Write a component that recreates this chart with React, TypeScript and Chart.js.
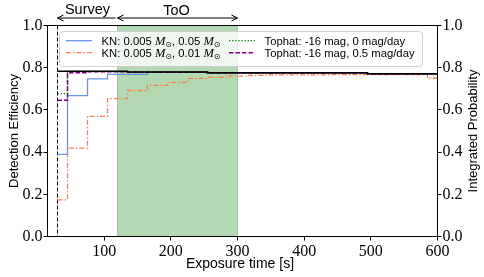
import React, { useEffect, useRef } from "react";
import { Chart, registerables } from "chart.js";

Chart.register(...registerables);

// ---- data ----
const X_MIN = 15;
const X_MAX = 600;
const xTicks = [100, 200, 300, 400, 500, 600];
const yTicks = [0, 0.2, 0.4, 0.6, 0.8, 1.0];

const surveyStart = 30;
const tooStart = 120;
const tooEnd = 300;

// KN: 0.005 Msun, 0.05 Msun (blue, solid)
const knHeavyTimes = [30, 45, 75, 105, 165, 255, 495, 600];
const knHeavyVals = [0.389, 0.668, 0.747, 0.768, 0.779, 0.775, 0.770, 0.770];

// KN: 0.005 Msun, 0.01 Msun (coral, dash-dot)
const knLightTimes = [30, 45, 75, 105, 135, 165, 195, 225, 255, 285, 315, 345, 435, 585, 600];
const knLightVals = [0.174, 0.419, 0.569, 0.653, 0.692, 0.716, 0.730, 0.749, 0.754, 0.760, 0.764, 0.766, 0.767, 0.750, 0.750];

// Tophat: -16 mag, 0 mag/day (green, dotted)
const topFlatTimes = [30, 45, 135, 255, 495, 600];
const topFlatVals = [0.677, 0.782, 0.779, 0.775, 0.770, 0.770];

// Tophat: -16 mag, 0.5 mag/day (purple, dashed)
const topFadeTimes = [30, 45, 75, 135, 255, 495, 600];
const topFadeVals = [0.646, 0.776, 0.781, 0.779, 0.775, 0.770, 0.770];

// Integrated probability (black, solid, right axis)
const probTimes = [30, 135, 255, 495, 600];
const probVals = [0.783, 0.780, 0.776, 0.771, 0.771];

const toPts = (t: number[], v: number[]) => t.map((x, i) => ({ x, y: v[i] }));

const SANS = '"Liberation Sans", Arial, sans-serif';
const SERIF = '"Liberation Serif", "Times New Roman", serif';

Chart.defaults.font.family = SERIF;
Chart.defaults.font.size = 16;
Chart.defaults.color = "#000";

const styles = {
  blue: { color: "#6495ED", dash: [] as number[], width: 1.3 },
  coral: { color: "#FF7F50", dash: [5, 2, 1.5, 2], width: 1.3 },
  green: { color: "#008000", dash: [1.3, 1.8], width: 1.3 },
  purple: { color: "#800080", dash: [4.5, 2], width: 1.5 },
};

function drawRich(ctx: CanvasRenderingContext2D, x: number, y: number, parts: { t: string; font: string; dy?: number }[]) {
  for (const p of parts) {
    ctx.font = p.font;
    ctx.fillText(p.t, x, y + (p.dy || 0));
    x += ctx.measureText(p.t).width;
  }
}

function arrowHead(ctx: CanvasRenderingContext2D, x: number, y: number, dir: number) {
  ctx.beginPath();
  ctx.moveTo(x - dir * 6, y - 3);
  ctx.lineTo(x, y);
  ctx.lineTo(x - dir * 6, y + 3);
  ctx.stroke();
}

const decor = {
  id: "decor",
  beforeDatasetsDraw(chart: any) {
    const { ctx, chartArea: a, scales } = chart;
    const x = scales.x;
    ctx.save();
    const x1 = x.getPixelForValue(tooStart);
    const x2 = x.getPixelForValue(tooEnd);
    ctx.fillStyle = "rgba(0,128,0,0.3)";
    ctx.fillRect(x1, a.top, x2 - x1, a.bottom - a.top);
    ctx.strokeStyle = "rgba(0,128,0,0.3)";
    ctx.lineWidth = 1;
    ctx.strokeRect(x1, a.top, x2 - x1, a.bottom - a.top);
    const xs = x.getPixelForValue(surveyStart);
    ctx.strokeStyle = "#000";
    ctx.setLineDash([4, 2]);
    ctx.beginPath();
    ctx.moveTo(xs, a.top);
    ctx.lineTo(xs, a.bottom);
    ctx.stroke();
    ctx.restore();
  },
  afterDraw(chart: any) {
    const { ctx, chartArea: a, scales } = chart;
    const x = scales.x;
    ctx.save();
    // frame
    ctx.strokeStyle = "#000";
    ctx.lineWidth = 1;
    ctx.strokeRect(a.left, a.top, a.right - a.left, a.bottom - a.top);

    // axis titles
    ctx.fillStyle = "#000";
    ctx.textBaseline = "alphabetic";
    ctx.textAlign = "center";
    ctx.font = `14px ${SANS}`;
    ctx.fillText("Exposure time [s]", 240, 268);
    const cy = (a.top + a.bottom) / 2;
    ctx.font = `13px ${SANS}`;
    ctx.save();
    ctx.translate(17.5, cy);
    ctx.rotate(-Math.PI / 2);
    ctx.fillText("Detection Efficiency", 0, 0);
    ctx.restore();
    ctx.save();
    ctx.translate(476.5, cy);
    ctx.rotate(-Math.PI / 2);
    ctx.fillText("Integrated Probability", 0, 0);
    ctx.restore();

    // annotations
    const xs = x.getPixelForValue(surveyStart);
    const x1 = x.getPixelForValue(tooStart);
    const x2 = x.getPixelForValue(tooEnd);
    const ay = 18;
    ctx.font = `14.5px ${SANS}`;
    ctx.fillText("Survey", (xs + x1) / 2, 14);
    ctx.fillText("ToO", (x1 + x2) / 2 - 1, 14.5);
    ctx.lineWidth = 1;
    ctx.beginPath();
    ctx.moveTo(xs, ay);
    ctx.lineTo(x1 - 2, ay);
    ctx.moveTo(x1, ay);
    ctx.lineTo(x2, ay);
    ctx.stroke();
    arrowHead(ctx, xs, ay, -1);
    arrowHead(ctx, x1, ay, -1);
    arrowHead(ctx, x2, ay, 1);

    // legend
    const lx = 59, ly = 31, lw = 363, lh = 35;
    ctx.beginPath();
    (ctx as any).roundRect(lx + 0.5, ly + 0.5, lw, lh, 3);
    ctx.fillStyle = "rgba(255,255,255,0.8)";
    ctx.fill();
    ctx.strokeStyle = "rgba(204,204,204,0.9)";
    ctx.stroke();

    const rows = [40.7, 52.7];
    const cols = [66, 229];
    const handle = 26;
    const entries = [
      { s: styles.blue, col: 0, row: 0, parts: "0.05" },
      { s: styles.coral, col: 0, row: 1, parts: "0.01" },
      { s: styles.green, col: 1, row: 0, text: "Tophat: -16 mag, 0 mag/day" },
      { s: styles.purple, col: 1, row: 1, text: "Tophat: -16 mag, 0.5 mag/day" },
    ];
    const lf = `11.3px ${SANS}`;
    const mf = `italic 12.5px ${SERIF}`;
    const sf = `8px "DejaVu Sans", sans-serif`;
    for (const e of entries) {
      const hx = cols[e.col];
      const hy = rows[e.row];
      ctx.strokeStyle = e.s.color;
      ctx.lineWidth = e.s.width;
      ctx.setLineDash(e.s.dash);
      ctx.beginPath();
      ctx.moveTo(hx, hy);
      ctx.lineTo(hx + handle, hy);
      ctx.stroke();
      ctx.setLineDash([]);
      ctx.fillStyle = "#000";
      ctx.textAlign = "left";
      const tx = hx + handle + 9.5;
      const ty = hy + 4;
      if ((e as any).text) {
        ctx.font = lf;
        ctx.fillText((e as any).text, tx, ty);
      } else {
        drawRich(ctx, tx, ty, [
          { t: "KN: 0.005 ", font: lf },
          { t: "M", font: mf },
          { t: "\u2299", font: sf, dy: 2.5 },
          { t: ", " + (e as any).parts + " ", font: lf },
          { t: "M", font: mf },
          { t: "\u2299", font: sf, dy: 2.5 },
        ]);
      }
    }
    ctx.restore();
  },
};

export default function App() {
  const ref = useRef<HTMLCanvasElement | null>(null);
  useEffect(() => {
    if (!ref.current) return;
    const line = (data: any, s: any, order: number, axis = "y") => ({
      data,
      borderColor: s.color,
      borderWidth: s.width,
      borderDash: s.dash,
      pointRadius: 0,
      stepped: true,
      fill: false,
      order,
      yAxisID: axis,
    });
    const tickFont = () => ({ family: SERIF, size: 16 });
    const chart = new Chart(ref.current, {
      type: "line",
      data: {
        datasets: [
          line(toPts(probTimes, probVals), { color: "#000", dash: [], width: 1.5 }, 0, "y1"),
          line(toPts(topFadeTimes, topFadeVals), styles.purple, 1),
          line(toPts(topFlatTimes, topFlatVals), styles.green, 2),
          line(toPts(knLightTimes, knLightVals), styles.coral, 3),
          line(toPts(knHeavyTimes, knHeavyVals), styles.blue, 4),
        ] as any,
      },
      options: {
        animation: false,
        responsive: false,
        devicePixelRatio: 1,
        events: [],
        layout: { padding: { top: 25.5, left: 0, right: 0, bottom: 0 } },
        plugins: { legend: { display: false }, tooltip: { enabled: false } },
        scales: {
          x: {
            type: "linear",
            min: X_MIN,
            max: X_MAX,
            afterBuildTicks: (s: any) => {
              s.ticks = xTicks.map((v) => ({ value: v }));
            },
            afterFit: (s: any) => {
              s.height = 40.5;
            },
            ticks: { font: tickFont(), color: "#000", padding: 2, maxRotation: 0, autoSkip: false, callback: (v: any) => String(v) },
            grid: { display: true, drawOnChartArea: false, drawTicks: true, tickLength: 4, color: "#000" },
            border: { display: false },
          },
          y: {
            position: "left",
            min: 0,
            max: 1,
            afterBuildTicks: (s: any) => {
              s.ticks = yTicks.map((v) => ({ value: v }));
            },
            afterFit: (s: any) => {
              s.width = 47.5;
            },
            ticks: { font: tickFont(), color: "#000", padding: 1, callback: (v: any) => Number(v).toFixed(1) },
            grid: { display: true, drawOnChartArea: false, drawTicks: true, tickLength: 4, color: "#000" },
            border: { display: false },
          },
          y1: {
            position: "right",
            min: 0,
            max: 1,
            afterBuildTicks: (s: any) => {
              s.ticks = yTicks.map((v) => ({ value: v }));
            },
            afterFit: (s: any) => {
              s.width = 46.5;
            },
            ticks: { font: tickFont(), color: "#000", padding: 1, callback: (v: any) => Number(v).toFixed(1) },
            grid: { display: true, drawOnChartArea: false, drawTicks: true, tickLength: 4, color: "#000" },
            border: { display: false },
          },
        },
      } as any,
      plugins: [decor],
    });
    return () => chart.destroy();
  }, []);
  return (
    <div style={{ position: "absolute", left: 0, top: 0, width: 484, height: 277, background: "#fff" }}>
      <canvas ref={ref} width={484} height={277} style={{ display: "block", width: 484, height: 277 }} />
    </div>
  );
}
